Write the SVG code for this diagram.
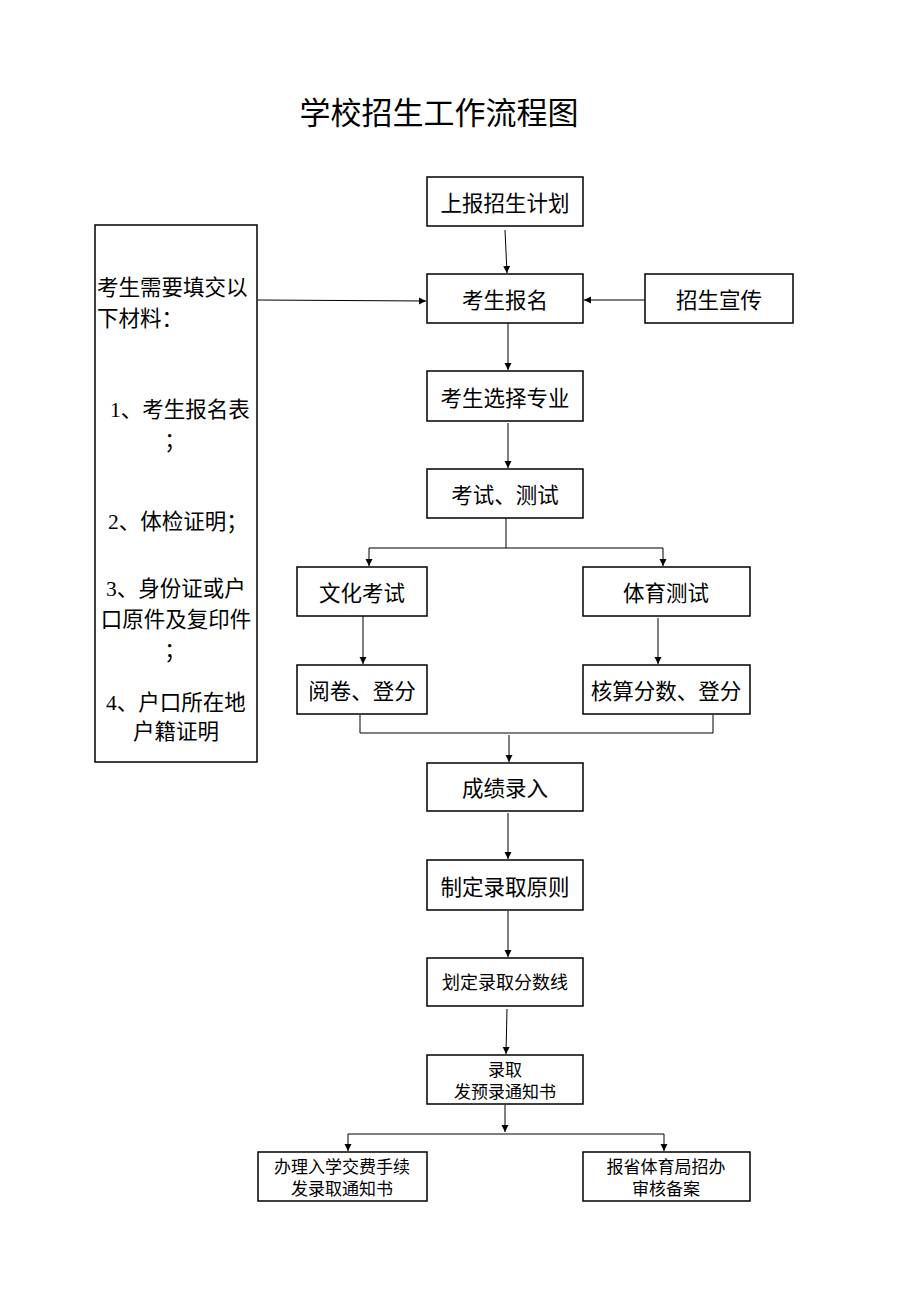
<svg xmlns="http://www.w3.org/2000/svg" width="920" height="1301" viewBox="0 0 920 1301">
<defs>
<marker id="ah" markerWidth="8" markerHeight="8" refX="7" refY="4" orient="auto" markerUnits="userSpaceOnUse">
<path d="M0,0.5 L7,4 L0,7.5 Z" fill="#000"/>
</marker>
<style>
rect{fill:#fff;stroke:#000;stroke-width:1.5}
text{font-family:"Liberation Serif","Noto Sans CJK SC",serif;fill:#000;font-size:21.5px}
.c{text-anchor:middle}
.s{font-size:17px}
#connectors path,#connectors line{fill:none;stroke:#000;stroke-width:1}
</style>
</defs>
<rect width="920" height="1301" style="fill:#fff;stroke:none"/>
<text x="439" y="124" class="c" style="font-size:31px">学校招生工作流程图</text>

<g id="connectors">
<line x1="505" y1="230" x2="507" y2="273" marker-end="url(#ah)"/>
<line x1="258" y1="300" x2="426" y2="301" marker-end="url(#ah)"/>
<line x1="645" y1="300" x2="584" y2="300" marker-end="url(#ah)"/>
<line x1="508" y1="323" x2="508" y2="370" marker-end="url(#ah)"/>
<line x1="508" y1="423" x2="508" y2="468" marker-end="url(#ah)"/>
<path d="M506,518 V548 M369,548 H663"/>
<line x1="369" y1="548" x2="369" y2="566" marker-end="url(#ah)"/>
<line x1="663" y1="548" x2="663" y2="566" marker-end="url(#ah)"/>
<line x1="363" y1="616" x2="363" y2="664" marker-end="url(#ah)"/>
<line x1="658" y1="618" x2="658" y2="664" marker-end="url(#ah)"/>
<path d="M360,715 V733 H713 V715"/>
<line x1="509" y1="735" x2="509" y2="762" marker-end="url(#ah)"/>
<line x1="508" y1="813" x2="508" y2="859" marker-end="url(#ah)"/>
<line x1="508" y1="911" x2="508" y2="957" marker-end="url(#ah)"/>
<line x1="507" y1="1009" x2="506" y2="1054" marker-end="url(#ah)"/>
<line x1="505" y1="1105" x2="505" y2="1132" marker-end="url(#ah)"/>
<path d="M348,1134 H664"/>
<line x1="348" y1="1134" x2="348" y2="1151" marker-end="url(#ah)"/>
<line x1="664" y1="1134" x2="664" y2="1151" marker-end="url(#ah)"/>
</g>

<g id="n-left">
<rect x="95" y="225" width="162" height="537"/>
<text x="97" y="295">考生需要填交以</text>
<text x="97" y="326">下材料：</text>
<text x="180" y="417" class="c">1、考生报名表</text>
<text x="175" y="448" class="c">；</text>
<text x="178" y="529" class="c">2、体检证明；</text>
<text x="176" y="596" class="c">3、身份证或户</text>
<text x="176" y="627" class="c">口原件及复印件</text>
<text x="175" y="658" class="c">；</text>
<text x="176" y="710" class="c">4、户口所在地</text>
<text x="176" y="739" class="c">户籍证明</text>
</g>

<g id="n-plan"><rect x="427" y="177" width="156" height="49"/><text x="505" y="211" class="c">上报招生计划</text></g>
<g id="n-signup"><rect x="427" y="274" width="156" height="49"/><text x="505" y="308" class="c">考生报名</text></g>
<g id="n-promo"><rect x="645" y="274" width="148" height="49"/><text x="719" y="308" class="c">招生宣传</text></g>
<g id="n-major"><rect x="427" y="371" width="156" height="50"/><text x="505" y="406" class="c">考生选择专业</text></g>
<g id="n-exam"><rect x="427" y="469" width="156" height="49"/><text x="505" y="503" class="c">考试、测试</text></g>
<g id="n-culture"><rect x="297" y="567" width="130" height="49"/><text x="362" y="601" class="c">文化考试</text></g>
<g id="n-sport"><rect x="583" y="567" width="167" height="49"/><text x="666" y="601" class="c">体育测试</text></g>
<g id="n-grade"><rect x="297" y="665" width="130" height="49"/><text x="362" y="699" class="c">阅卷、登分</text></g>
<g id="n-calc"><rect x="583" y="665" width="167" height="49"/><text x="666" y="699" class="c">核算分数、登分</text></g>
<g id="n-input"><rect x="427" y="763" width="156" height="48"/><text x="505" y="796" class="c">成绩录入</text></g>
<g id="n-rule"><rect x="427" y="860" width="156" height="50"/><text x="505" y="895" class="c">制定录取原则</text></g>
<g id="n-line"><rect x="427" y="958" width="156" height="48"/><text x="505" y="989" class="c" style="font-size:18px">划定录取分数线</text></g>
<g id="n-admit"><rect x="427" y="1055" width="156" height="49"/><text x="505" y="1076" class="c s">录取</text><text x="505" y="1098" class="c s">发预录通知书</text></g>
<g id="n-enroll"><rect x="258" y="1152" width="169" height="49"/><text x="342" y="1173" class="c s">办理入学交费手续</text><text x="342" y="1195" class="c s">发录取通知书</text></g>
<g id="n-report"><rect x="583" y="1152" width="167" height="49"/><text x="666" y="1173" class="c s">报省体育局招办</text><text x="666" y="1195" class="c s">审核备案</text></g>
</svg>
